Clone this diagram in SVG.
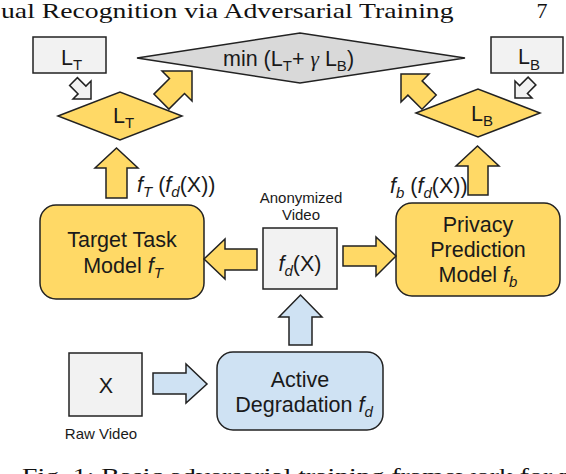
<svg xmlns="http://www.w3.org/2000/svg" width="566" height="474" viewBox="0 0 566 474">
<style>
.y{fill:#FFD966;stroke:#222;stroke-width:1.5;stroke-linejoin:miter}
.b{fill:#CFE2F3;stroke:#222;stroke-width:1.5}
.g{fill:#F2F2F2;stroke:#222;stroke-width:1.5}
.dg{fill:#D9D9D9;stroke:#222;stroke-width:1.5}
.t{font-family:"Liberation Sans",Arial,sans-serif;font-size:21.5px;fill:#1a1a1a}
.s{font-family:"Liberation Sans",Arial,sans-serif;font-size:15px;fill:#1a1a1a}
.m{text-anchor:middle}
.i{font-style:italic}
.sub{font-size:15px}
.hdr{font-family:"Liberation Serif","Times New Roman",serif;font-size:22px;fill:#111}
</style>
<rect width="566" height="474" fill="#fff"/>
<g id="header">
<text class="hdr" transform="translate(1,18) scale(1.26,1)">ual Recognition via Adversarial Training</text>
<text class="hdr" x="542" y="18" text-anchor="middle">7</text>
</g>
<g id="node-LT-box">
<rect class="g" x="33" y="37" width="73" height="36"/>
<text class="t" x="61" y="65">L<tspan class="sub" dy="5">T</tspan></text>
</g>
<g id="node-LT-diamond">
<polygon class="y" points="58,116 120,92 182,116 120,140"/>
<text class="t" x="113" y="123">L<tspan class="sub" dy="5">T</tspan></text>
</g>
<g id="node-min">
<polygon class="dg" points="137,58 300,33 465,58 300,83"/>
<text class="t" x="223" y="66">min (L<tspan class="sub" dy="5">T</tspan><tspan dy="-5">+ </tspan><tspan font-family="Liberation Serif" class="i">γ</tspan> L<tspan class="sub" dy="5">B</tspan><tspan dy="-5">)</tspan></text>
</g>
<g id="node-LB-diamond">
<polygon class="y" points="416,113 478,89 540,113 478,137"/>
<text class="t" x="471" y="121">L<tspan class="sub" dy="5">B</tspan></text>
</g>
<g id="node-LB-box">
<rect class="g" x="491" y="37" width="72" height="36"/>
<text class="t" x="518" y="64">L<tspan class="sub" dy="6">B</tspan></text>
</g>
<g id="node-target">
<rect class="y" x="40" y="205" width="164" height="94" rx="16"/>
<text class="t m" x="122" y="247">Target Task</text>
<text class="t m" x="123" y="273">Model <tspan class="i">f</tspan><tspan class="sub i" dy="5">T</tspan></text>
</g>
<g id="node-privacy">
<rect class="y" x="396" y="203" width="164" height="93" rx="16"/>
<text class="t m" x="478" y="232">Privacy</text>
<text class="t m" x="478" y="257">Prediction</text>
<text class="t m" x="478" y="282">Model <tspan class="i">f</tspan><tspan class="sub i" dy="5">b</tspan></text>
</g>
<g id="node-fdx">
<text class="s m" x="301" y="203">Anonymized</text>
<text class="s m" x="301" y="220">Video</text>
<rect class="g" x="263" y="228" width="74" height="61"/>
<text class="t m" x="300" y="271"><tspan class="i">f</tspan><tspan class="sub i" dy="5">d</tspan><tspan dy="-5">(X)</tspan></text>
</g>
<g id="node-x">
<rect class="g" x="69" y="353" width="73" height="63"/>
<text class="t m" x="106" y="393">X</text>
<text class="s m" x="101" y="439">Raw Video</text>
</g>
<g id="node-active">
<rect class="b" x="217" y="352" width="166" height="78" rx="16"/>
<text class="t m" x="300" y="387">Active</text>
<text class="t m" x="304" y="412">Degradation <tspan class="i">f</tspan><tspan class="sub i" dy="5">d</tspan></text>
</g>
<g id="connectors">
<polygon class="g" points="91,99 73,99 78.1,93.9 69.6,85.4 77.4,77.6 85.9,86.1 91,81"/>
<polygon class="g" points="515,98 515,81 519.6,85.6 528.1,77.1 535.9,84.9 527.4,93.4 532,98"/>
<polygon class="y" points="192,71 192,101 184.5,93.5 168.9,109.1 153.9,94.1 169.5,78.5 162,71"/>
<polygon class="y" points="401,74 429,74 422.1,80.9 436.2,95 422,109.2 407.9,95.1 401,102"/>
<path class="y" d="M106,198 V168 H95 L116.5,148 L138,168 H127 V198 Z"/>
<path class="y" d="M468,195 V166 H456 L477.5,146 L499,166 H488 V195 Z"/>
<path class="y" d="M257,249 H225 V239 L204,259 L225,279 V270 H257 Z"/>
<path class="y" d="M343,246 H376 V237 L396,256 L376,276 V266 H343 Z"/>
<path class="b" d="M153,373 H186 V364 L207,384 L186,403 V394 H153 Z"/>
<path class="b" d="M289,345 V317 H279 L300.5,295 L322,317 H312 V345 Z"/>
<text class="t" x="137" y="192"><tspan class="i">f</tspan><tspan class="sub i" dy="5">T</tspan><tspan dy="-5"> (</tspan><tspan class="i">f</tspan><tspan class="sub i" dy="5">d</tspan><tspan dy="-5">(X))</tspan></text>
<text class="t" x="390" y="193"><tspan class="i">f</tspan><tspan class="sub i" dy="5">b</tspan><tspan dy="-5"> (</tspan><tspan class="i">f</tspan><tspan class="sub i" dy="5">d</tspan><tspan dy="-5">(X))</tspan></text>
</g>
<g id="caption">
<text class="hdr" transform="translate(22,483) scale(1.26,1)">Fig. 1: Basic adversarial training framework for privacy-preserving</text>
</g>
</svg>
